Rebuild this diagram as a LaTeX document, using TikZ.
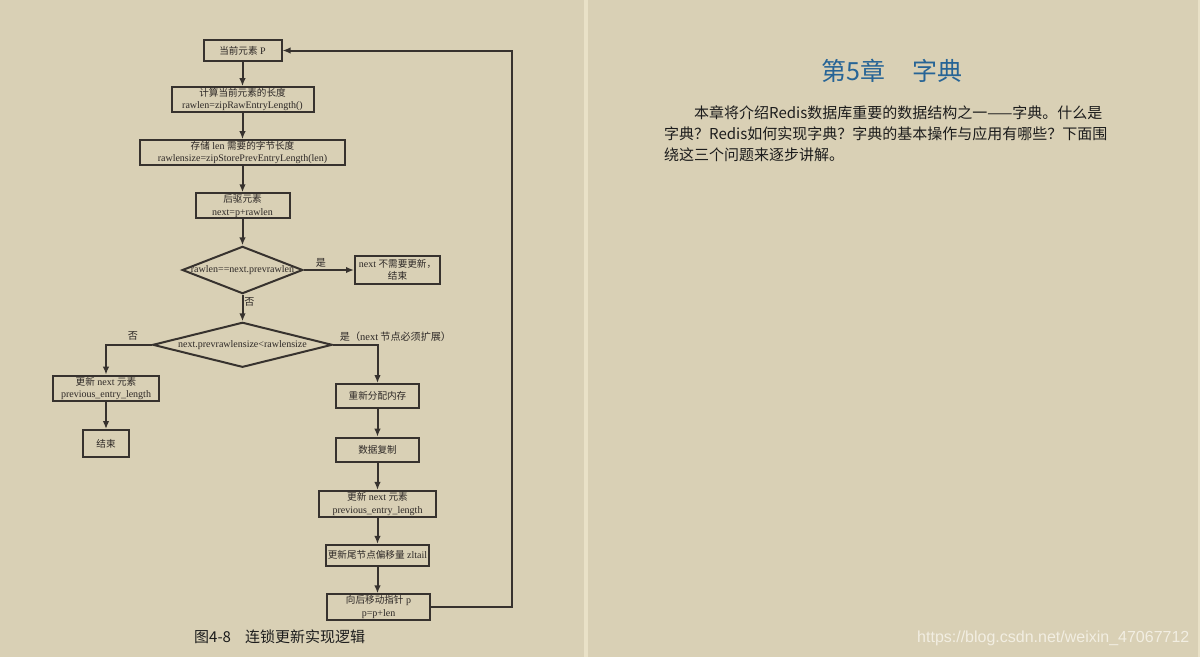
\documentclass[tikz,border=0pt]{standalone}
\usepackage{fontspec}
\setmainfont{Liberation Serif}
\newfontfamily\cjk[Scale=0.96]{Noto Sans CJK SC}
\newfontfamily\cjksans{Noto Sans CJK SC}
\newfontfamily\wmfont{Liberation Sans}
\usetikzlibrary{shapes.geometric,arrows.meta}
\definecolor{bg}{RGB}{217,208,181}
\definecolor{divc}{RGB}{233,225,199}
\definecolor{ln}{RGB}{55,50,46}
\definecolor{tx}{RGB}{45,40,38}
\definecolor{titleblue}{RGB}{38,100,150}
\definecolor{para}{RGB}{28,28,28}
\definecolor{wm}{RGB}{242,238,226}
\begin{document}
\begin{tikzpicture}[x=1pt,y=-1pt,
  box/.style={draw=ln, line width=2pt, inner sep=0pt, align=center,
    font=\fontsize{10}{12.5}\selectfont, text=tx},
  dia/.style={draw=ln, line width=2pt, diamond, inner sep=0pt},
  diatext/.style={inner sep=0pt, font=\fontsize{10}{12}\selectfont, text=tx},
  arr/.style={draw=ln, line width=2pt, -{Latex[length=8pt,width=6.5pt]}},
  lbl/.style={font=\fontsize{10.5}{12}\selectfont\cjk, text=tx, inner sep=0pt},
  paraline/.style={anchor=west, inner sep=0pt, font=\fontsize{15}{15}\cjksans, text=para}]
\useasboundingbox (0,0) rectangle (1200,657);
\fill[bg] (0,0) rectangle (1200,657);
\fill[divc] (584,0) rectangle (588,657);
\fill[divc] (1197.5,0) rectangle (1200,657);

% left column
\node[box, minimum width=78pt, minimum height=21pt] (p) at (242.5,50.5) {{\cjk 当前元素} P};
\node[box, minimum width=142pt, minimum height=25pt] (len) at (242.5,99.7) {{\cjk 计算当前元素的长度}\\rawlen=zipRawEntryLength()};
\node[box, minimum width=205pt, minimum height=25pt] (store) at (242.5,152.7) {{\cjk 存储} len {\cjk 需要的字节长度}\\rawlensize=zipStorePrevEntryLength(len)};
\node[box, minimum width=94pt, minimum height=25pt] (nxt) at (242.5,205.8) {{\cjk 后驱元素}\\next=p+rawlen};
\node[dia, minimum width=120.6pt, minimum height=47.3pt] (d1) at (242.5,270) {};
\node[diatext] (d1t) at (d1.center) {rawlen==next.prevrawlen};
\node[box, minimum width=85pt, minimum height=28.3pt] (end1) at (397.5,270) {next {\cjk 不需要更新，}\\{\cjk 结束}};
\node[dia, minimum width=179.6pt, minimum height=45pt] (d2) at (242.5,344.8) {};
\node[diatext] (d2t) at (d2.center) {next.prevrawlensize<rawlensize};

% left branch
\node[box, minimum width=106.6pt, minimum height=25.3pt] (upd1) at (106,388.3) {{\cjk 更新} next {\cjk 元素}\\previous\_entry\_length};
\node[box, minimum width=46.6pt, minimum height=27.3pt] (end2) at (106,443.7) {{\cjk 结束}};

% right branch
\node[box, minimum width=83.3pt, minimum height=24.3pt] (realloc) at (377.5,396.2) {{\cjk 重新分配内存}};
\node[box, minimum width=83.3pt, minimum height=24.6pt] (copy) at (377.5,450) {{\cjk 数据复制}};
\node[box, minimum width=117.7pt, minimum height=25.7pt] (upd2) at (377.5,503.8) {{\cjk 更新} next {\cjk 元素}\\previous\_entry\_length};
\node[box, minimum width=103.7pt, minimum height=20.7pt] (tail) at (377.5,555.3) {{\cjk 更新尾节点偏移量} zltail};
\node[box, minimum width=103.4pt, minimum height=25.7pt] (move) at (378.5,607.2) {{\cjk 向后移动指针} p\\p=p+len};

% connectors
\draw[arr] (p) -- (len);
\draw[arr] (len) -- (store);
\draw[arr] (store) -- (nxt);
\draw[arr] (nxt) -- (d1);
\draw[arr] (d1.east) -- (end1);
\draw[arr] (d1.south) -- (d2.north);
\draw[arr] (d2.west) -| (upd1.north);
\draw[arr] (upd1) -- (end2);
\draw[arr] (d2.east) -| (realloc.north);
\draw[arr] (realloc) -- (copy);
\draw[arr] (copy) -- (upd2);
\draw[arr] (upd2) -- (tail);
\draw[arr] (tail.south) -- (tail.south |- move.north);
\coordinate (loop) at (512,50.5);
\draw[arr] (move.east) -| (loop) -- (p.east);

% edge labels
\node[lbl] (ly1) at (321,262.5) {是};
\node[lbl] (ln1) at (249.5,301.5) {否};
\node[lbl] (ln2) at (133,336) {否};
\node[lbl] (ly2) at (395.5,336.5) {是（{\rmfamily next} 节点必须扩展）};

% caption
\node[anchor=west, inner sep=0pt, font=\fontsize{15}{15}\cjksans, text=para] (cap) at (194,637) {图4-8\hspace{14pt}连锁更新实现逻辑};

% right page
\node[anchor=west, inner sep=0pt, font=\fontsize{25}{25}\cjksans, text=titleblue] (title) at (821,71) {第5章\hspace{27pt}字典};
\node[paraline] (pl1) at (694,112.5) {本章将介绍Redis数据库重要的数据结构之一——字典。什么是};
\node[paraline] (pl2) at (664,133.3) {字典？Redis如何实现字典？字典的基本操作与应用有哪些？下面围};
\node[paraline] (pl3) at (664,155) {绕这三个问题来逐步讲解。};

% watermark
\node[anchor=west, inner sep=0pt, font=\fontsize{16}{16}\wmfont, text=wm] (wmk) at (917,638) {https://blog.csdn.net/weixin\_47067712};
\end{tikzpicture}
\end{document}
